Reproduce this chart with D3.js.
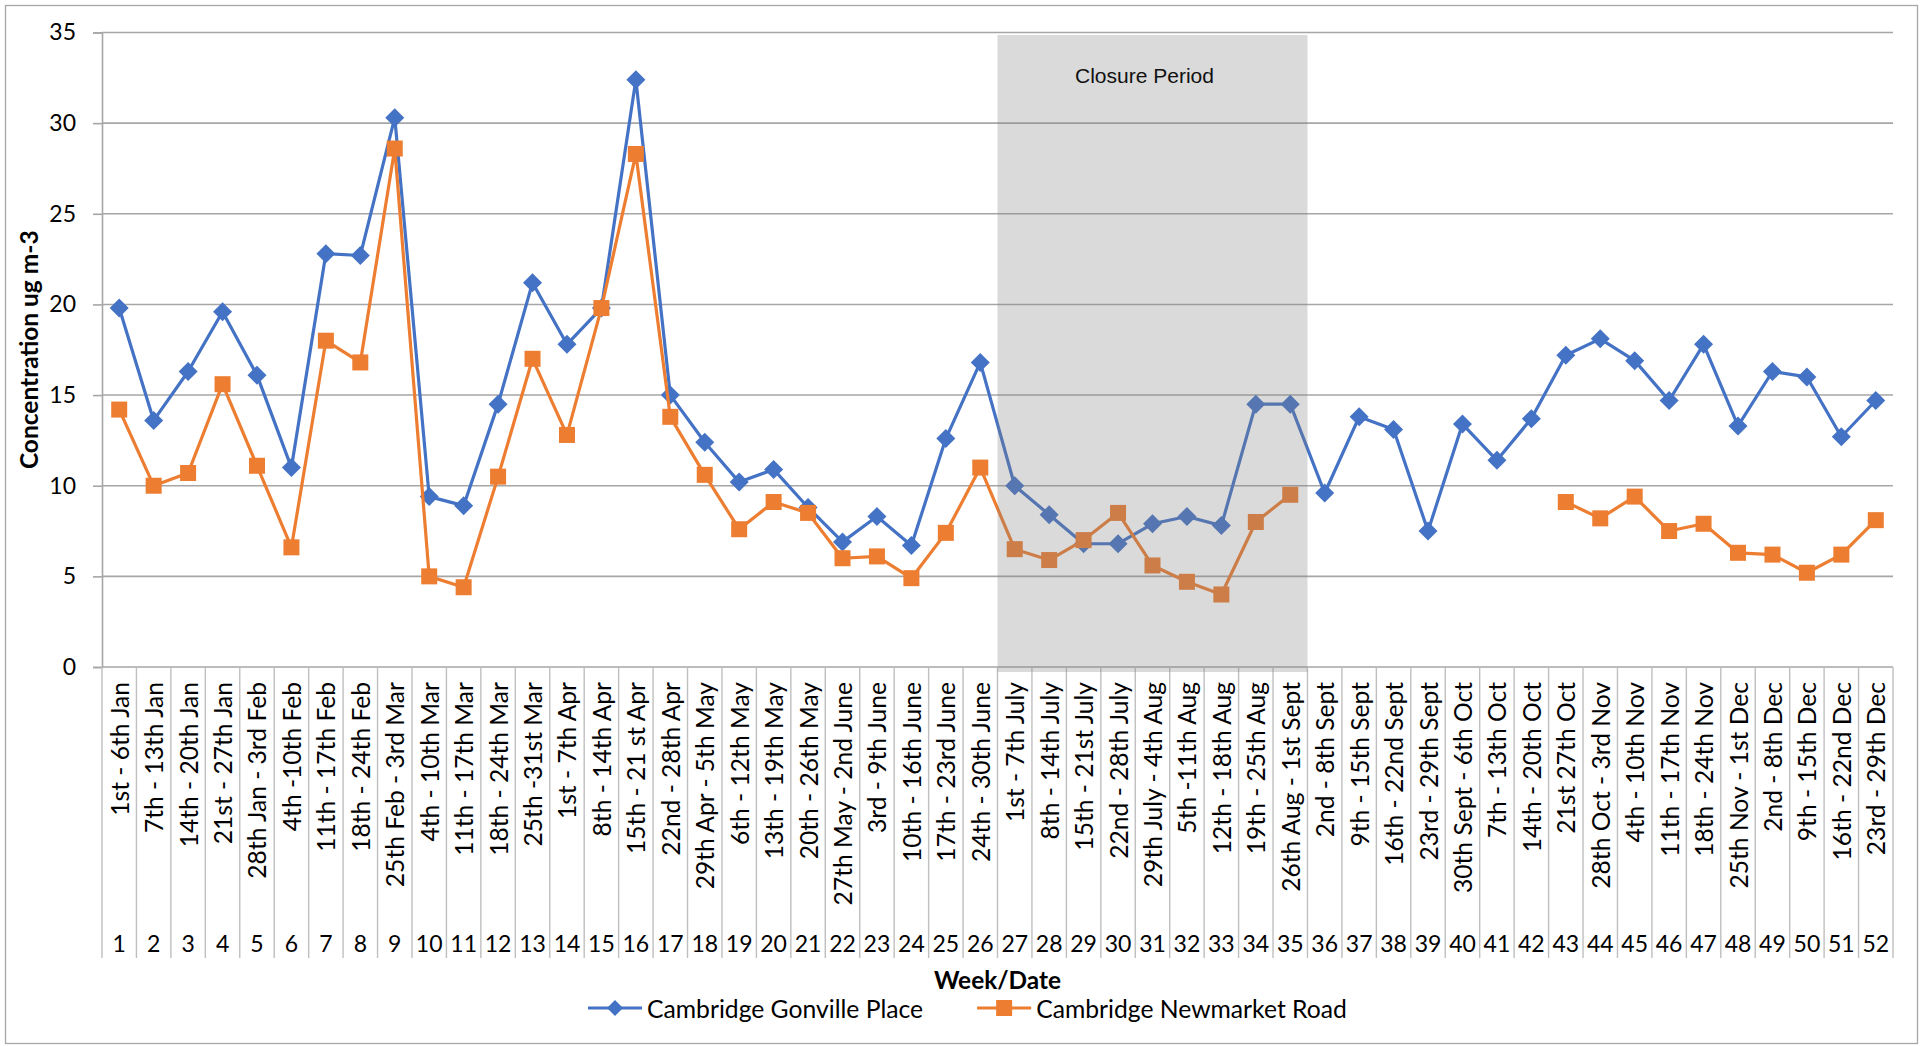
<!DOCTYPE html>
<html>
<head>
<meta charset="utf-8">
<script src="https://cdn.jsdelivr.net/npm/d3@7"></script>
<style>
  html, body { margin: 0; padding: 0; background: #fff; }
  svg { display: block; }
</style>
</head>
<body>
<svg id="chart" width="1924" height="1046"></svg>
<script>
// Weekly NO2 concentrations at two Cambridge monitoring sites
const weeks = d3.range(1, 53);

const weekDates = [
  "1st - 6th Jan", "7th - 13th Jan", "14th - 20th Jan", "21st - 27th Jan",
  "28th Jan - 3rd Feb", "4th -10th Feb", "11th - 17th Feb", "18th - 24th Feb",
  "25th Feb - 3rd Mar", "4th - 10th Mar", "11th - 17th Mar", "18th - 24th Mar",
  "25th -31st Mar", "1st - 7th Apr", "8th - 14th Apr", "15th - 21 st Apr",
  "22nd - 28th Apr", "29th Apr - 5th May", "6th - 12th May", "13th - 19th May",
  "20th - 26th May", "27th May - 2nd June", "3rd - 9th June", "10th - 16th June",
  "17th - 23rd June", "24th - 30th June", "1st - 7th July", "8th - 14th July",
  "15th - 21st July", "22nd - 28th July", "29th July - 4th Aug", "5th -11th Aug",
  "12th - 18th Aug", "19th - 25th Aug", "26th Aug - 1st Sept", "2nd - 8th Sept",
  "9th - 15th Sept", "16th - 22nd Sept", "23rd - 29th Sept", "30th Sept - 6th Oct",
  "7th - 13th Oct", "14th - 20th Oct", "21st 27th Oct", "28th Oct - 3rd Nov",
  "4th - 10th Nov", "11th - 17th Nov", "18th - 24th Nov", "25th Nov - 1st Dec",
  "2nd - 8th Dec", "9th - 15th Dec", "16th - 22nd Dec", "23rd - 29th Dec"
];

const gonvillePlace = [
  19.8, 13.6, 16.3, 19.6, 16.1, 11.0, 22.8, 22.7, 30.3, 9.4,
  8.9, 14.5, 21.2, 17.8, 19.8, 32.4, 15.0, 12.4, 10.2, 10.9,
  8.8, 6.9, 8.3, 6.7, 12.6, 16.8, 10.0, 8.4, 6.8, 6.8,
  7.9, 8.3, 7.8, 14.5, 14.5, 9.6, 13.8, 13.1, 7.5, 13.4,
  11.4, 13.7, 17.2, 18.1, 16.9, 14.7, 17.8, 13.3, 16.3, 16.0,
  12.7, 14.7
];

const newmarketRoad = [
  14.2, 10.0, 10.7, 15.6, 11.1, 6.6, 18.0, 16.8, 28.6, 5.0,
  4.4, 10.5, 17.0, 12.8, 19.8, 28.3, 13.8, 10.6, 7.6, 9.1,
  8.5, 6.0, 6.1, 4.9, 7.4, 11.0, 6.5, 5.9, 7.0, 8.5,
  5.6, 4.7, 4.0, 8.0, 9.5, null, null, null, null, null,
  null, null, 9.1, 8.2, 9.4, 7.5, 7.9, 6.3, 6.2, 5.2,
  6.2, 8.1
];

const seriesNames = ["Cambridge Gonville Place", "Cambridge Newmarket Road"];
const yTicks = [0, 5, 10, 15, 20, 25, 30, 35];
const closureWeeks = [27, 35];
const closureLabel = "Closure Period";
const yTitle = "Concentration ug m-3";
const xTitle = "Week/Date";

const BLUE = "#4472C4", ORANGE = "#ED7D31";
const FONT = "Lato, 'Open Sans', sans-serif";

const svg = d3.select("#chart");

// plot frame
const plot = { left: 102, right: 1893, top: 32.5, bottom: 667 };
const catBottom = 958;

const x = d3.scaleBand().domain(weeks).range([plot.left, plot.right]).padding(0);
const y = d3.scaleLinear().domain([0, 35]).range([plot.bottom, plot.top]);
const cx = w => x(w) + x.bandwidth() / 2;

// outer chart border
svg.append("rect")
  .attr("x", 5.5).attr("y", 5.5).attr("width", 1912).attr("height", 1038)
  .attr("fill", "#fff").attr("stroke", "#a6a6a6").attr("stroke-width", 1.3);

// horizontal gridlines
svg.append("g")
  .selectAll("line")
  .data(yTicks.filter(t => t > 0))
  .join("line")
  .attr("x1", plot.left).attr("x2", plot.right)
  .attr("y1", d => y(d)).attr("y2", d => y(d))
  .attr("stroke", "#a6a6a6").attr("stroke-width", 1.6);

// value axis
const yAxis = svg.append("g")
  .attr("transform", `translate(${plot.left},0)`)
  .call(d3.axisLeft(y).tickValues(yTicks).tickSize(9).tickPadding(17).tickFormat(d3.format("d")));
yAxis.select(".domain").attr("stroke", "#a6a6a6").attr("stroke-width", 1.6);
yAxis.selectAll(".tick line").attr("stroke", "#a6a6a6").attr("stroke-width", 1.6);
yAxis.selectAll(".tick text")
  .attr("font-family", FONT).attr("font-size", 23).attr("fill", "#000");

// category axis baseline and separators
svg.append("line")
  .attr("x1", plot.left).attr("x2", plot.right)
  .attr("y1", y(0)).attr("y2", y(0))
  .attr("stroke", "#a6a6a6").attr("stroke-width", 1.6);

const bounds = weeks.map(w => x(w)).concat([x(weeks[weeks.length - 1]) + x.bandwidth()]);
svg.append("g")
  .selectAll("line")
  .data(bounds)
  .join("line")
  .attr("x1", d => d).attr("x2", d => d)
  .attr("y1", y(0)).attr("y2", catBottom)
  .attr("stroke", "#bfbfbf").attr("stroke-width", 1.4);

// rotated date labels
svg.append("g")
  .selectAll("text")
  .data(weeks)
  .join("text")
  .attr("transform", w => `translate(${cx(w)},${y(0) + 15}) rotate(-90)`)
  .attr("text-anchor", "end")
  .attr("dominant-baseline", "central")
  .attr("font-family", FONT).attr("font-size", 24.6).attr("fill", "#000")
  .text((w, i) => weekDates[i]);

// week numbers
svg.append("g")
  .selectAll("text")
  .data(weeks)
  .join("text")
  .attr("x", w => cx(w)).attr("y", 952)
  .attr("text-anchor", "middle")
  .attr("font-family", FONT).attr("font-size", 23).attr("fill", "#000")
  .text(w => w);

// series lines and markers
const diamond = s => `M0,${-s}L${s},0L0,${s}L${-s},0Z`;
function drawSeries(values, color, shape) {
  const pts = weeks.map((w, i) => ({ w, v: values[i] }));
  const line = d3.line()
    .defined(d => d.v != null)
    .x(d => cx(d.w)).y(d => y(d.v));
  const g = svg.append("g");
  g.append("path").datum(pts)
    .attr("d", line).attr("fill", "none")
    .attr("stroke", color).attr("stroke-width", 3.2).attr("stroke-linejoin", "round");
  const valid = pts.filter(d => d.v != null);
  if (shape === "diamond") {
    g.selectAll(".m").data(valid).join("path")
      .attr("transform", d => `translate(${cx(d.w)},${y(d.v)})`)
      .attr("d", diamond(9.5)).attr("fill", color);
  } else {
    g.selectAll(".m").data(valid).join("rect")
      .attr("x", d => cx(d.w) - 8).attr("y", d => y(d.v) - 8)
      .attr("width", 16).attr("height", 16).attr("fill", color);
  }
}
drawSeries(gonvillePlace, BLUE, "diamond");
drawSeries(newmarketRoad, ORANGE, "square");

// closure period shading, drawn over the series
const cx0 = x(closureWeeks[0]);
const cx1 = x(closureWeeks[1]) + x.bandwidth();
svg.append("rect")
  .attr("x", cx0).attr("width", cx1 - cx0)
  .attr("y", y(35) + 2.5).attr("height", y(0) + 5 - (y(35) + 2.5))
  .attr("fill", "#7f7f7f").attr("fill-opacity", 0.29);
svg.append("text")
  .attr("x", (cx0 + cx1) / 2 - 8).attr("y", 83)
  .attr("text-anchor", "middle")
  .attr("font-family", "'Liberation Sans', Arial, sans-serif").attr("font-size", 21)
  .attr("fill", "#111")
  .text(closureLabel);

// axis titles
svg.append("text")
  .attr("transform", `translate(28,${(plot.top + plot.bottom) / 2}) rotate(-90)`)
  .attr("text-anchor", "middle").attr("dominant-baseline", "central")
  .attr("font-family", FONT).attr("font-weight", 700).attr("font-size", 24.5).attr("fill", "#000")
  .text(yTitle);

svg.append("text")
  .attr("x", (plot.left + plot.right) / 2).attr("y", 989)
  .attr("text-anchor", "middle")
  .attr("font-family", FONT).attr("font-weight", 700).attr("font-size", 24.4).attr("fill", "#000")
  .text(xTitle);

// legend
const legendY = 1008;
const legend = svg.append("g");
let lx = 588;
[[seriesNames[0], BLUE, "diamond"], [seriesNames[1], ORANGE, "square"]].forEach(([name, color, shape]) => {
  const g = legend.append("g").attr("transform", `translate(${lx},${legendY})`);
  g.append("line").attr("x1", 0).attr("x2", 54).attr("y1", 0).attr("y2", 0)
    .attr("stroke", color).attr("stroke-width", 3.2);
  if (shape === "diamond") {
    g.append("path").attr("transform", "translate(27,0)").attr("d", diamond(8)).attr("fill", color);
  } else {
    g.append("rect").attr("x", 19).attr("y", -8).attr("width", 16).attr("height", 16).attr("fill", color);
  }
  const t = g.append("text").attr("x", 59).attr("y", 0)
    .attr("dominant-baseline", "central")
    .attr("font-family", FONT).attr("font-size", 24.7).attr("fill", "#000")
    .text(name);
  lx += 59 + t.node().getComputedTextLength() + 54;
});
</script>
</body>
</html>
